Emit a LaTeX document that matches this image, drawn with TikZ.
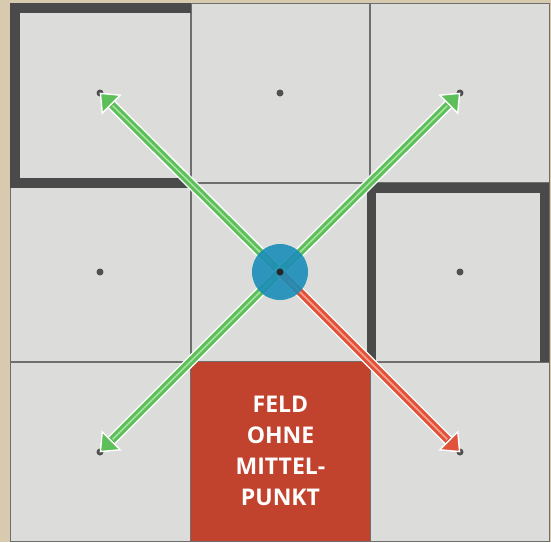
\documentclass[tikz,border=0pt]{standalone}
\usepackage{fontspec}
\newfontfamily\labfont{Open Sans}
\usetikzlibrary{arrows.meta}
\definecolor{parch}{HTML}{D8CAAE}
\definecolor{tilegray}{HTML}{DCDCDB}
\definecolor{gridline}{HTML}{6E6E6E}
\definecolor{wallgray}{HTML}{4A4A4A}
\definecolor{redtile}{HTML}{C1432D}
\definecolor{agreen}{HTML}{5CBF5A}
\definecolor{agreenl}{HTML}{A6E3A0}
\definecolor{ared}{HTML}{E0533A}
\definecolor{aredl}{HTML}{F5A08C}
\definecolor{hubblue}{HTML}{1B8DB8}
\definecolor{dotgray}{HTML}{505050}
\tikzset{
  wall/.style={fill=wallgray, draw=none},
  gline/.style={draw=gridline, line width=1.2pt},
  tdot/.style={circle, fill=dotgray, inner sep=0pt, minimum size=7pt},
  hub/.style={circle, fill=hubblue, fill opacity=0.9, inner sep=0pt, minimum size=56pt},
  hubdot/.style={circle, fill=black!85, inner sep=0pt, minimum size=7pt},
  movearrow/.style={line width=7.5pt, draw=#1, shorten >=-0.5pt,
    -{Triangle[length=17pt,width=28pt,fill=#1,color=white,line width=1.4pt]},
    preaction={draw=white, line width=10.5pt, -, shorten >=14pt},
    postaction={draw=#1l, line width=1.6pt, -, shorten >=18pt, shorten <=12pt}},
  lab/.style={text=white, font=\labfont\bfseries\fontsize{23}{31}\selectfont, align=center}
}
\begin{document}
\begin{tikzpicture}[x=1pt,y=-1pt]
\useasboundingbox (0,0) rectangle (551,542);
% background
\fill[parch] (0,0) rectangle (551,542);
\fill[tilegray] (10,3) rectangle (549,541);
\draw[gridline, line width=1pt] (10,3) rectangle (549,541);
% grid lines
\draw[gline] (191,3) -- (191,541);
\draw[gline] (370,3) -- (370,541);
\draw[gline] (10,183) -- (549,183);
\draw[gline] (10,362) -- (549,362);
% red tile
\fill[redtile] (191,362) rectangle (370,541);
\node[lab] (txt) at (280.5,451) {FELD\\OHNE\\MITTEL-\\PUNKT};
% walls top-left tile
\fill[wall] (10,3) rectangle (191,13);
\fill[wall] (10,3) rectangle (20,188);
\fill[wall] (10,178) rectangle (191,188);
% walls right-middle tile
\fill[wall] (367,183) rectangle (549,193);
\fill[wall] (367,183) rectangle (376,362);
\fill[wall] (540,183) rectangle (549,362);
% tile centre dots
\node[tdot] (d11) at (100,93) {};
\node[tdot] (d12) at (280,93) {};
\node[tdot] (d13) at (460,93) {};
\node[tdot] (d21) at (100,272) {};
\node[tdot] (d23) at (460,272) {};
\node[tdot] (d31) at (100,452) {};
\node[tdot] (d33) at (460,452) {};
\coordinate (c) at (280,272);
% arrows
\draw[movearrow=agreen] (c) -- (d11.center);
\draw[movearrow=agreen] (c) -- (d13.center);
\draw[movearrow=agreen] (c) -- (d31.center);
\draw[movearrow=ared] (c) -- (d33.center);
% hub
\node[hub] (hubc) at (c) {};
\node[hubdot] (hubd) at (c) {};
\end{tikzpicture}
\end{document}
